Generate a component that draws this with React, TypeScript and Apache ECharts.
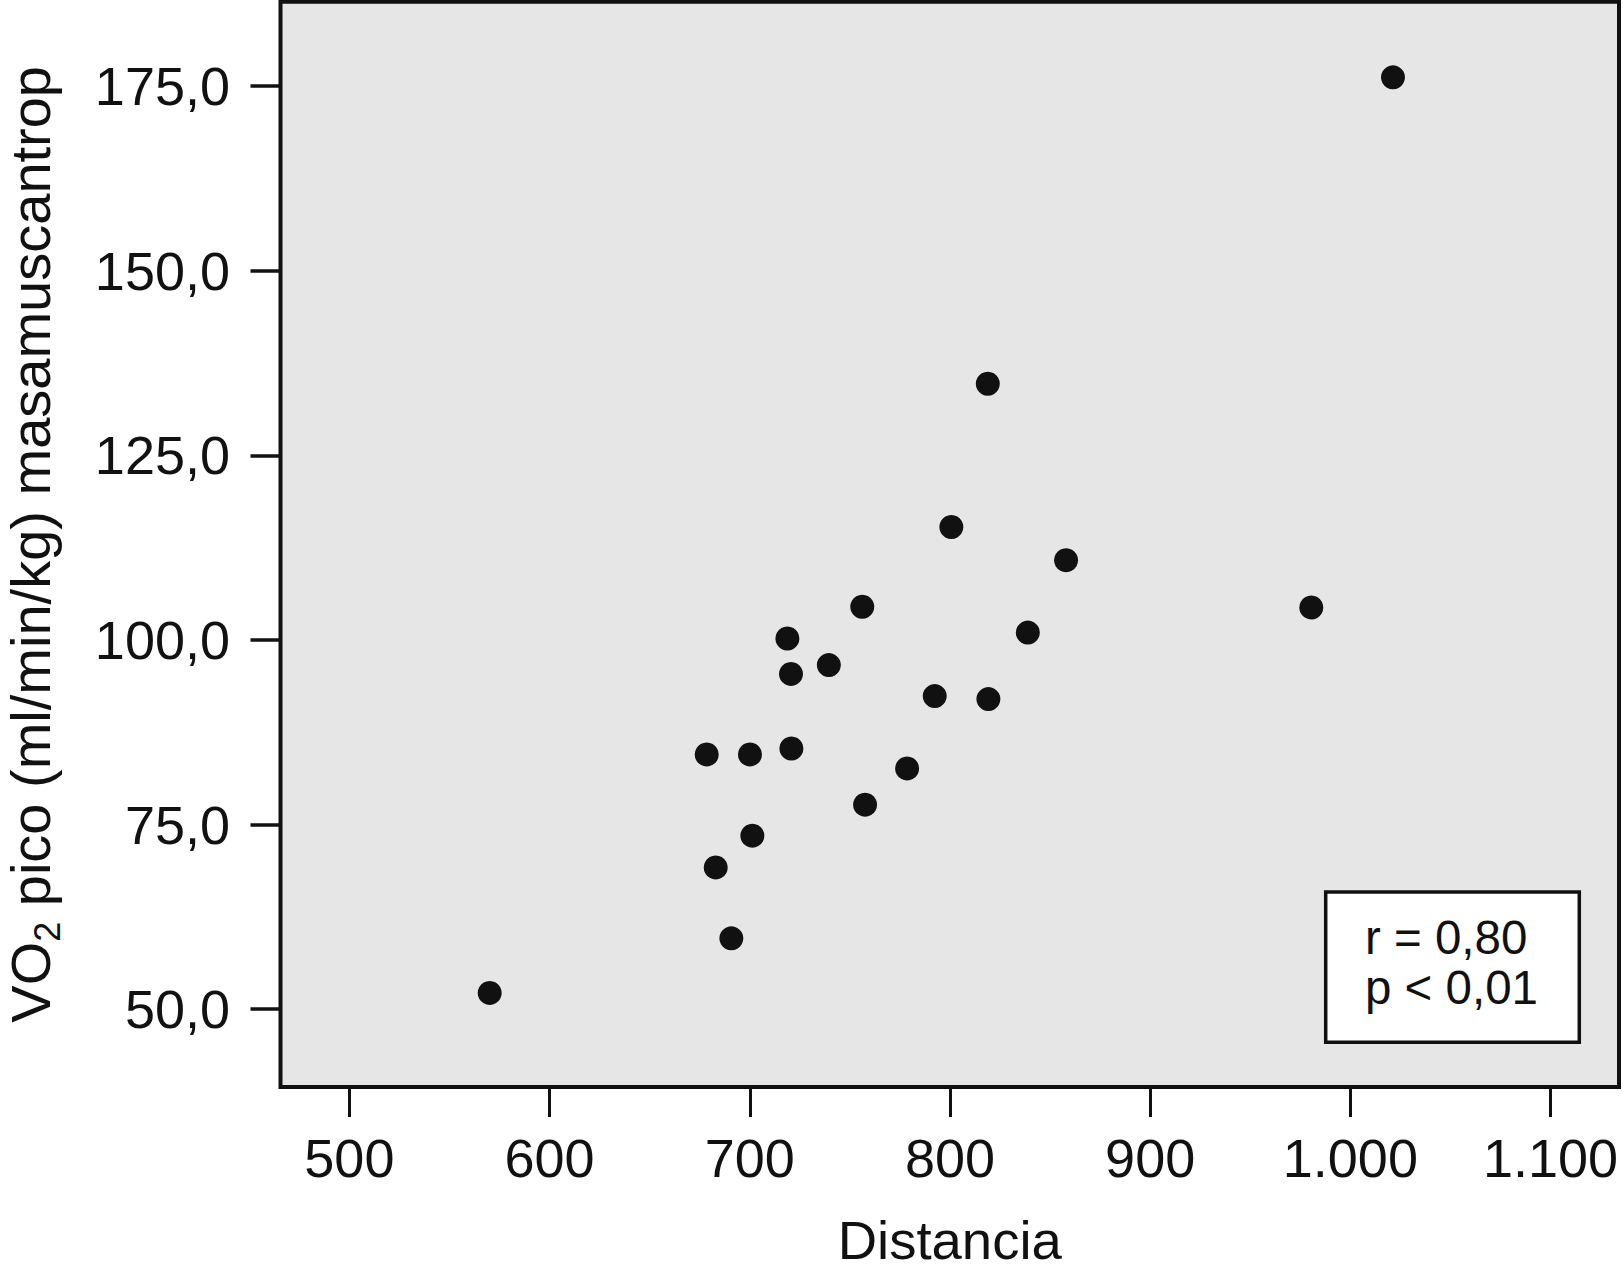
import React, { useEffect, useRef } from "react";
import * as echarts from "echarts";

// Data (Distancia vs VO2 pico)
const distancia: number[] = [
  1021.3, 818.9, 800.7, 858.0, 756.2, 980.5, 838.9, 718.8, 739.5, 720.6, 792.4,
  819.2, 678.5, 700.1, 720.8, 778.6, 757.6, 701.3, 683.0, 690.8, 570.1,
];
const vo2: number[] = [
  176.2, 134.7, 115.3, 110.8, 104.5, 104.4, 101.0, 100.2, 96.6, 95.4, 92.4,
  92.0, 84.5, 84.5, 85.3, 82.6, 77.7, 73.5, 69.2, 59.6, 52.2,
];
const xTicks: number[] = [500, 600, 700, 800, 900, 1000, 1100];
const yTicks: number[] = [50, 75, 100, 125, 150, 175];
const xRange: number[] = [465.6, 1134.2];
const yRange: number[] = [39.46, 186.44];
const xTitle = "Distancia";
const yTitleMain = "VO";
const yTitleSub = "2";
const yTitleRest = " pico (ml/min/kg) masamuscantrop";
const statsLines: string[] = ["r = 0,80", "p < 0,01"];

const FONT = "'Liberation Sans', Arial, Helvetica, sans-serif";
const INK = "#111111";

const fmtX = (v: number) =>
  String(Math.round(v)).replace(/\B(?=(\d{3})+(?!\d))/g, ".");
const fmtY = (v: number) => v.toFixed(1).replace(".", ",");

export default function App() {
  const ref = useRef<HTMLDivElement>(null);

  useEffect(() => {
    if (!ref.current) return;
    const chart = echarts.init(ref.current, undefined, { renderer: "svg" });
    const points = distancia.map((x, i) => [x, vo2[i]]);

    chart.setOption({
      animation: false,
      backgroundColor: "#ffffff",
      grid: {
        left: 280.5,
        top: 1.7,
        right: 4,
        bottom: 190,
        show: true,
        backgroundColor: "#e6e6e6",
        borderColor: INK,
        borderWidth: 4,
        containLabel: false,
        outerBoundsMode: "none",
      },
      xAxis: {
        type: "value",
        min: xRange[0],
        max: xRange[1],
        name: xTitle,
        nameLocation: "middle",
        nameGap: 126,
        nameMoveOverlap: false,
        nameTextStyle: { fontFamily: FONT, fontSize: 54.5, color: INK },
        axisLine: { show: false },
        splitLine: { show: false },
        axisTick: {
          show: true,
          inside: false,
          length: 30,
          customValues: xTicks,
          lineStyle: { color: INK, width: 3 },
        },
        axisLabel: {
          show: true,
          margin: 44,
          customValues: xTicks,
          formatter: (v: number) => fmtX(v),
          fontFamily: FONT,
          fontSize: 54,
          color: INK,
          hideOverlap: false,
        },
      },
      yAxis: {
        type: "value",
        min: yRange[0],
        max: yRange[1],
        name: `{m|${yTitleMain}}{s|${yTitleSub}}{m|${yTitleRest}}`,
        nameLocation: "middle",
        nameGap: 222,
        nameMoveOverlap: false,
        nameTextStyle: {
          fontFamily: FONT,
          fontSize: 56,
          color: INK,
          rich: {
            m: {
              fontFamily: FONT,
              fontSize: 56,
              lineHeight: 56,
              color: INK,
              verticalAlign: "top",
            },
            s: {
              fontFamily: FONT,
              fontSize: 36,
              lineHeight: 36,
              color: INK,
              verticalAlign: "top",
              padding: [27.4, 0, 0, 0],
            },
          },
        },
        axisLine: { show: false },
        splitLine: { show: false },
        axisTick: {
          show: true,
          inside: false,
          length: 30,
          customValues: yTicks,
          lineStyle: { color: INK, width: 3.5 },
        },
        axisLabel: {
          show: true,
          margin: 50.5,
          customValues: yTicks,
          formatter: (v: number) => fmtY(v),
          fontFamily: FONT,
          fontSize: 54,
          color: INK,
          hideOverlap: false,
        },
      },
      series: [
        {
          type: "scatter",
          data: points,
          symbol: "circle",
          symbolSize: 24,
          itemStyle: { color: INK, opacity: 1 },
        },
      ],
      graphic: [
        {
          type: "rect",
          shape: { x: 1325.7, y: 892, width: 253.6, height: 150.3 },
          style: { fill: "#ffffff", stroke: INK, lineWidth: 3.5 },
          z: 100,
        },
        {
          type: "text",
          x: 1365,
          y: 912.5,
          z: 101,
          style: {
            text: statsLines.join("\n"),
            fontFamily: FONT,
            fontSize: 47.5,
            lineHeight: 50,
            fill: INK,
            textAlign: "left",
            textVerticalAlign: "top",
          },
        },
      ],
    });

    return () => chart.dispose();
  }, []);

  return (
    <div
      ref={ref}
      style={{ position: "absolute", left: 0, top: 0, width: 1623, height: 1277 }}
    />
  );
}
